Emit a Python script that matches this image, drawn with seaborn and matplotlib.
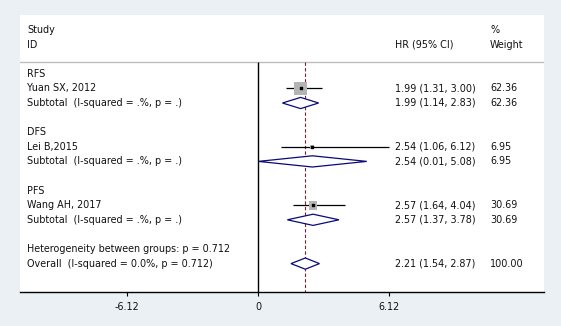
import matplotlib
matplotlib.use("Agg")
import matplotlib.pyplot as plt
import numpy as np
import pandas as pd
import seaborn as sns
from matplotlib.patches import Polygon

# data
groups = ["RFS", "DFS", "PFS"]
studies = ["Yuan SX, 2012", "Lei B,2015", "Wang AH, 2017"]
study_hr = [1.99, 2.54, 2.57]
study_lo = [1.31, 1.06, 1.64]
study_hi = [3.00, 6.12, 4.04]
study_weight = [62.36, 6.95, 30.69]
sub_hr = [1.99, 2.54, 2.57]
sub_lo = [1.14, 0.01, 1.37]
sub_hi = [2.83, 5.08, 3.78]
sub_weight = [62.36, 6.95, 30.69]
overall_hr, overall_lo, overall_hi = 2.21, 1.54, 2.87
x_ticks = [-6.12, 0, 6.12]

BG = "#EAF0F3"
NAVY = "#0A0A78"
FONT = ["DejaVu Sans"]
FS = 6.9

sns.set_theme(style="white")
plt.rcParams["font.family"] = FONT

fig = plt.figure(figsize=(5.61, 3.26), dpi=100, facecolor=BG)
ax = fig.add_axes([20 / 561, 34 / 326, 524 / 561, 277 / 326])
ax.set_facecolor("white")

# row layout (pixel-like units, top = 15)
ROW0, STEP = 30.0, 14.6
def row_y(i):
    return ROW0 + i * STEP

ax.set_ylim(292, 15)
ax.set_xlim(-11.12, 13.36)

rows = []
for g in range(3):
    base = 3 + g * 4
    rows.append({"kind": "group", "label": groups[g], "y": row_y(base)})
    rows.append({"kind": "study", "label": studies[g], "y": row_y(base + 1),
                 "hr": study_hr[g], "lo": study_lo[g], "hi": study_hi[g], "w": study_weight[g]})
    rows.append({"kind": "sub", "label": "Subtotal  (I-squared = .%, p = .)", "y": row_y(base + 2),
                 "hr": sub_hr[g], "lo": sub_lo[g], "hi": sub_hi[g], "w": sub_weight[g]})
rows.append({"kind": "group", "label": "Heterogeneity between groups: p = 0.712", "y": row_y(15)})
rows.append({"kind": "sub", "label": "Overall  (I-squared = 0.0%, p = 0.712)", "y": row_y(16),
             "hr": overall_hr, "lo": overall_lo, "hi": overall_hi, "w": 100.0})
df = pd.DataFrame(rows)

sep_y = 62.5
tx = matplotlib.transforms.blended_transform_factory(ax.transAxes, ax.transData)
TXT = dict(transform=tx, fontsize=FS, va="center", color="#111111")
ax.text(0.0134, row_y(0), "Study", **TXT)
ax.text(0.0134, row_y(1), "ID", **TXT)
ax.text(0.7156, row_y(1), "HR (95% CI)", **TXT)
ax.text(0.897, row_y(0), "%", **TXT)
ax.text(0.897, row_y(1), "Weight", **TXT)
ax.axhline(sep_y, color="#BEBEBE", lw=1)

# zero line and overall dashed line
ax.vlines(0, sep_y, 292, color="black", lw=1)
ax.vlines(overall_hr, sep_y, 292, color="#7A1F2B", lw=0.8, linestyles=(0, (3, 2)))

# study CIs and boxes
st = df[df["kind"] == "study"]
ax.hlines(st["y"], st["lo"], st["hi"], color="black", lw=0.9, zorder=2)
sns.scatterplot(data=st, x="hr", y="y", size="w", sizes=(1.25 * min(study_weight), 1.25 * max(study_weight)),
                size_norm=(min(study_weight), max(study_weight)), marker="s", color="#B4B4B4",
                edgecolor="none", linewidth=0, legend=False, ax=ax, zorder=3)
ax.scatter(st["hr"], st["y"], s=1.2, marker="s", color="black", zorder=4)

# diamonds
for _, r in df[df["kind"] == "sub"].iterrows():
    h = 5.6
    poly = Polygon([[r["lo"], r["y"]], [r["hr"], r["y"] - h], [r["hi"], r["y"]], [r["hr"], r["y"] + h]],
                   closed=True, facecolor="white", edgecolor=NAVY, lw=0.9, zorder=3)
    ax.add_patch(poly)

# row texts
for _, r in df.iterrows():
    ax.text(0.0134, r["y"], r["label"], **TXT)
    if r["kind"] in ("study", "sub"):
        ax.text(0.7156, r["y"], f"{r['hr']:.2f} ({r['lo']:.2f}, {r['hi']:.2f})", **TXT)
        ax.text(0.897, r["y"], f"{r['w']:.2f}", **TXT)

# axes styling
for s in ["top", "right", "left"]:
    ax.spines[s].set_visible(False)
ax.spines["bottom"].set_color("black")
ax.spines["bottom"].set_linewidth(1)
ax.set_xticks(x_ticks)
ax.set_xticklabels([f"{t:g}" if t != 0 else "0" for t in x_ticks])
ax.tick_params(axis="x", direction="out", length=3, width=0.8, color="black", labelsize=FS,
               labelcolor="#111111", pad=4, bottom=True)
ax.set_yticks([])
ax.set_xlabel("")
ax.set_ylabel("")

fig.savefig("out.png", dpi=100, facecolor=BG)
